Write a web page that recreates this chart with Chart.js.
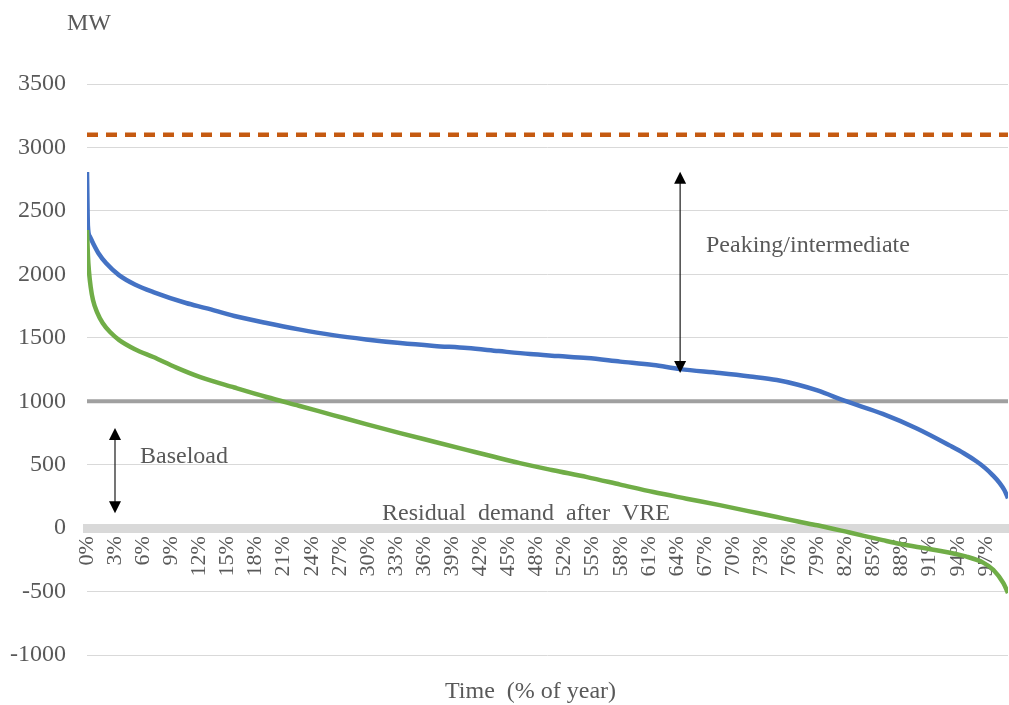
<!DOCTYPE html>
<html>
<head>
<meta charset="utf-8">
<script src="https://cdn.jsdelivr.net/npm/chart.js@4.4.1/dist/chart.umd.min.js"></script>
<style>
  html, body { margin: 0; padding: 0; background: #ffffff; }
  #wrap { width: 1009px; height: 705px; }
</style>
</head>
<body>
<div id="wrap"><canvas id="c" width="1009" height="705"></canvas></div>
<script>
// ---------- DATA ----------
const xTickLabels = ['0%','3%','6%','9%','12%','15%','18%','21%','24%','27%','30%','33%','36%','39%','42%','45%','48%','52%','55%','58%','61%','64%','67%','70%','73%','76%','79%','82%','85%','88%','91%','94%','97%'];
const xTickStep = 3.05; // % of year between labelled ticks

// Load duration curve (MW), x = % of year
const demandX = [0, 0.1, 0.3, 0.65, 1.3, 2.06, 3.47, 5.2, 7.2, 10.75, 12.9, 16, 19.5, 23, 26.7, 30.3, 34, 37.7, 41.3, 44.7, 48.1, 51.2, 54.3, 57.9, 61.5, 64.4, 68.7, 72, 74.9, 77.2, 79.3, 82.4, 86.4, 90.1, 93.7, 95.2, 96.6, 97.5, 98.3, 99.1, 99.6, 100];
const demandMW = [2806, 2380, 2300, 2247, 2160, 2089, 1994, 1920, 1860, 1774, 1734, 1672, 1616, 1566, 1521, 1487, 1458, 1436, 1419, 1395, 1372, 1356, 1340, 1312, 1285, 1253, 1222, 1195, 1167, 1130, 1085, 1000, 900, 785, 650, 590, 525, 475, 420, 355, 300, 235];

// Residual demand after VRE (MW)
const residualX = [0, 0.1, 0.2, 0.4, 0.65, 1.1, 1.7, 2.5, 3.5, 5.2, 7.2, 9.7, 12.3, 16, 19.5, 23, 26.7, 30.3, 34, 37.7, 41.3, 44.2, 47, 50.6, 54.3, 57.9, 61.5, 65.1, 68.7, 71.8, 74.9, 77.2, 79.3, 82.8, 86.4, 88.3, 91.9, 95.5, 97.3, 98.4, 99.5, 100];
const residualMW = [2349, 2150, 2034, 1900, 1797, 1700, 1616, 1545, 1482, 1410, 1348, 1265, 1190, 1108, 1033, 964, 891, 820, 749, 681, 615, 562, 512, 456, 402, 343, 284, 232, 181, 134, 87, 52, 22, -35, -95, -125, -170, -225, -272, -328, -434, -512];

// Horizontal reference levels (MW) across the whole year
const levelX = [0, 100];
const capacityMW = [3100, 3100];
const baseloadMW = [1000, 1000];

// Y axis range
const yMin = -1000, yMax = 3500, yStep = 500;

// ---------- ANNOTATIONS (layout) ----------
const arrowMarks = [
  { x: 64.4, top: 2809, bottom: 1222 },
  { x: 3.04, top: 788, bottom: 118 }
];
const textMarks = [
  { text: 'MW', left: 67, baseline: 30 },
  { text: 'Peaking/intermediate', left: 706, baseline: 252 },
  { text: 'Baseload', left: 140, baseline: 463 },
  { text: 'Residual  demand  after  VRE', left: 382, baseline: 520 },
  { text: 'Time  (% of year)', left: 445, baseline: 698 }
];

const toPts = (xs, ys) => ys.map((v, i) => ({ x: xs[i], y: v }));
const FONT = 'Liberation Serif';
const TXT = '#595959';

const annotPlugin = {
  id: 'annot',
  afterDatasetsDraw(chart) {
    const { ctx, scales: { x, y } } = chart;
    ctx.save();
    ctx.strokeStyle = '#1a1a1a';
    ctx.fillStyle = '#000000';
    ctx.lineWidth = 1.2;
    const head = 12, hw = 6;
    arrowMarks.forEach(a => {
      const px = x.getPixelForValue(a.x);
      const t = y.getPixelForValue(a.top);
      const b = y.getPixelForValue(a.bottom);
      ctx.beginPath();
      ctx.moveTo(px, t + head - 1);
      ctx.lineTo(px, b - head + 1);
      ctx.stroke();
      ctx.beginPath();
      ctx.moveTo(px, t); ctx.lineTo(px - hw, t + head); ctx.lineTo(px + hw, t + head); ctx.closePath();
      ctx.fill();
      ctx.beginPath();
      ctx.moveTo(px, b); ctx.lineTo(px - hw, b - head); ctx.lineTo(px + hw, b - head); ctx.closePath();
      ctx.fill();
    });
    ctx.font = '24px "' + FONT + '"';
    ctx.fillStyle = TXT;
    ctx.textBaseline = 'alphabetic';
    ctx.textAlign = 'left';
    textMarks.forEach(m => ctx.fillText(m.text, m.left, m.baseline));
    ctx.restore();
  }
};

new Chart(document.getElementById('c'), {
  type: 'line',
  data: {
    datasets: [
      { label: 'Residual demand after VRE', data: toPts(residualX, residualMW), borderColor: '#70ad47', borderWidth: 4.5, pointRadius: 0, cubicInterpolationMode: 'monotone', fill: false },
      { label: 'Demand', data: toPts(demandX, demandMW), borderColor: '#4472c4', borderWidth: 4.5, pointRadius: 0, cubicInterpolationMode: 'monotone', fill: false },
      { label: 'Capacity', data: toPts(levelX, capacityMW), borderColor: '#c55a11', borderWidth: 4.5, borderDash: [11, 8], pointRadius: 0, fill: false },
      { label: 'Baseload', data: toPts(levelX, baseloadMW), borderColor: '#a0a0a0', borderWidth: 4, pointRadius: 0, fill: false }
    ]
  },
  options: {
    responsive: false,
    animation: false,
    layout: { padding: { left: 0, right: 1, top: 84, bottom: 50 } },
    plugins: { legend: { display: false }, tooltip: { enabled: false }, title: { display: false } },
    scales: {
      x: {
        type: 'linear', min: 0, max: 100,
        position: { y: 0 },
        grid: { display: false, drawTicks: false },
        border: { display: true, color: '#d9d9d9', width: 9 },
        afterBuildTicks: s => { s.ticks = xTickLabels.map((_, i) => ({ value: i * xTickStep })); },
        afterFit: s => { s.paddingLeft = 0; s.paddingRight = 0; },
        ticks: {
          autoSkip: false, minRotation: 90, maxRotation: 90, padding: 8,
          font: { family: FONT, size: 22 }, color: TXT,
          callback: (v, i) => xTickLabels[i]
        }
      },
      y: {
        min: yMin, max: yMax,
        grid: { color: '#d9d9d9', lineWidth: 1, drawTicks: false },
        border: { display: false },
        afterFit: s => { s.width = 87; },
        ticks: {
          stepSize: yStep, padding: 21,
          font: { family: FONT, size: 24 }, color: TXT,
          callback: v => String(v)
        }
      }
    }
  },
  plugins: [annotPlugin]
});
</script>
</body>
</html>
